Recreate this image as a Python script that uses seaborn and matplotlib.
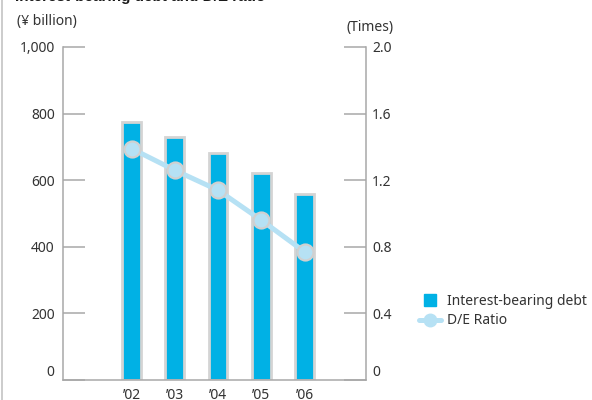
import matplotlib
matplotlib.use("Agg")
import matplotlib.pyplot as plt
from matplotlib.lines import Line2D
import seaborn as sns
import pandas as pd

# Fiscal years and values
years = ["\u201902", "\u201903", "\u201904", "\u201905", "\u201906"]
debt = [776, 731, 681, 623, 558]          # interest-bearing debt, ¥ billion
de_ratio = [1.39, 1.26, 1.14, 0.96, 0.77]  # D/E ratio, times

left_ticks = [0, 200, 400, 600, 800, 1000]
left_labels = ["0", "200", "400", "600", "800", "1,000"]
right_ticks = [0, 0.4, 0.8, 1.2, 1.6, 2.0]
right_labels = ["0", "0.4", "0.8", "1.2", "1.6", "2.0"]

BAR = "#00b1e5"
BAR_EDGE = "#d4d4d4"
LINE = "#b6e1f4"
DOT_EDGE = "#d0d0d0"
AXIS = "#a8a8a8"
TEXT = "#333333"

sns.set_theme(style="white")
plt.rcParams["font.family"] = ["Noto Sans", "DejaVu Sans"]

df = pd.DataFrame({"year": years, "debt": debt, "de": de_ratio})

fig = plt.figure(figsize=(5.92, 4.0), dpi=100)
ax = fig.add_axes([63 / 592, 20 / 400, 303 / 592, 333 / 400])

sns.barplot(data=df, x="year", y="debt", ax=ax, color=BAR, saturation=1,
            width=0.43, edgecolor=BAR_EDGE, linewidth=2.0, zorder=2)

ax2 = ax.twinx()
sns.pointplot(data=df, x="year", y="de", ax=ax2, color=LINE,
              markers="o", markersize=11.5, linewidth=3.6,
              markeredgecolor=DOT_EDGE, markeredgewidth=1.6, zorder=3)

xlim = (-1.584, 5.42)
for a in (ax, ax2):
    a.set_xlim(*xlim)
    a.set_xlabel("")
    a.set_ylabel("")
    a.spines["top"].set_visible(False)
    for side in ("left", "right", "bottom"):
        a.spines[side].set_color(AXIS)
        a.spines[side].set_linewidth(1.1)

ax.set_ylim(0, 1000)
ax2.set_ylim(0, 2.0)
ax.spines["right"].set_visible(False)
ax2.spines["left"].set_visible(False)
ax2.spines["bottom"].set_visible(False)

ax.set_yticks(left_ticks)
ax.set_yticklabels(left_labels)
ax2.set_yticks(right_ticks)
ax2.set_yticklabels(right_labels)

ax.tick_params(axis="y", direction="in", length=16, width=1.1, color=AXIS,
               pad=6, labelsize=10, labelcolor=TEXT, left=True)
ax2.tick_params(axis="y", direction="in", length=16, width=1.1, color=AXIS,
                pad=4.5, labelsize=10, labelcolor=TEXT, right=True)
ax.tick_params(axis="x", length=0, pad=6, labelsize=10, labelcolor=TEXT)
ax2.tick_params(axis="x", length=0, labelbottom=False)

# zero labels sit just above the baseline
ax.get_yticklabels()[0].set_va("bottom")
ax2.get_yticklabels()[0].set_va("bottom")

# unit captions
fig.text(17 / 592, 1 - 22 / 400, "(¥ billion)", fontsize=10, color=TEXT,
         ha="left", va="center")
fig.text(370 / 592, 1 - 28 / 400, "(Times)", fontsize=10, color=TEXT,
         ha="center", va="center")

# chart title
fig.text(15 / 592, 1 - 1.5 / 400, "Interest-bearing debt and D/E ratio",
         fontsize=11, fontweight="bold", color="#1a1a1a", ha="left",
         va="baseline", family=["Liberation Sans", "DejaVu Sans"])

# frame line on the left edge
fig.add_artist(Line2D([2 / 592, 2 / 592], [0, 1], color="#c4c4c4",
                      linewidth=1.2, transform=fig.transFigure))

handles = [
    Line2D([], [], linestyle="none", marker="s", markersize=9,
           markerfacecolor=BAR, markeredgecolor=BAR),
    Line2D([], [], color=LINE, linewidth=3.6, marker="o", markersize=9,
           markerfacecolor=LINE, markeredgecolor=LINE),
]
fig.legend(handles, ["Interest-bearing debt", "D/E Ratio"],
           loc="center left", bbox_to_anchor=(419 / 592, 1 - 311 / 400),
           frameon=False, fontsize=10, labelcolor=TEXT, handlelength=1.6,
           handletextpad=0.45, labelspacing=0.35, borderaxespad=0,
           borderpad=0)

fig.savefig("out.png", dpi=100)
